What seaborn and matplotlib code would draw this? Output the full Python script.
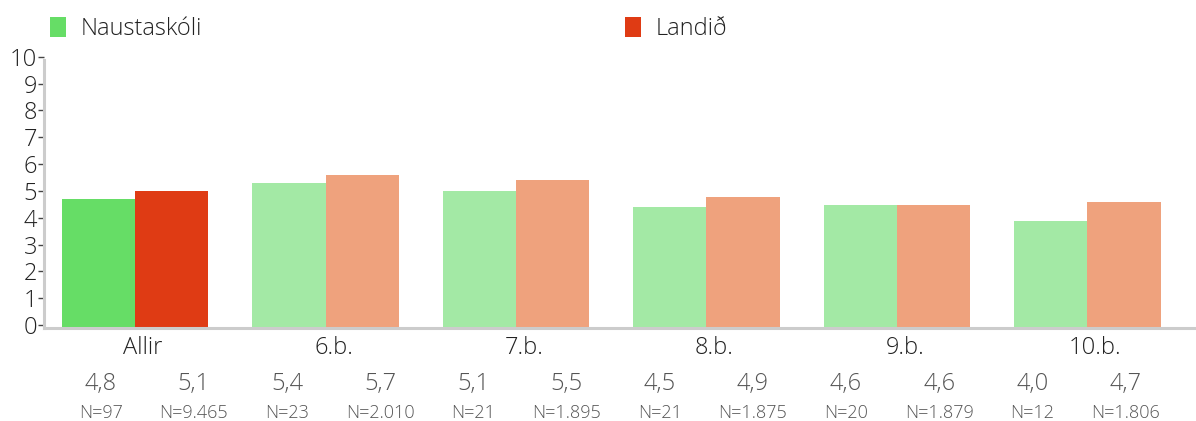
import numpy as np
import pandas as pd
import seaborn as sns
import matplotlib.pyplot as plt
from matplotlib.transforms import ScaledTranslation
from matplotlib.patches import Patch

groups = ["Allir", "6.b.", "7.b.", "8.b.", "9.b.", "10.b."]
series = ["Naustaskóli", "Landið"]
naust_values = [4.8, 5.4, 5.1, 4.5, 4.6, 4.0]
landid_values = [5.1, 5.7, 5.5, 4.9, 4.6, 4.7]
naust_n = ["97", "23", "21", "21", "20", "12"]
landid_n = ["9.465", "2.010", "1.895", "1.875", "1.879", "1.806"]

strong_colors = ["#66dd66", "#df3b14"]
pale_colors = ["#a3e9a5", "#efa27d"]

df = pd.DataFrame({
    "group": groups * 2,
    "series": [series[0]] * len(groups) + [series[1]] * len(groups),
    "value": naust_values + landid_values,
})

sns.set_theme(style="white")
plt.rcParams["font.family"] = ["Open Sans", "DejaVu Sans"]
plt.rcParams["font.weight"] = "light"

fig = plt.figure(figsize=(11.96, 4.21), dpi=100)
ax = fig.add_axes([0.0368, 0.2209, 0.9632, 0.6373])

sns.barplot(data=df, x="group", y="value", hue="series", order=groups,
            hue_order=series, palette=strong_colors, saturation=1,
            width=0.77, ax=ax, legend=False)

# pale colours for every group except "Allir"
for s_idx, container in enumerate(ax.containers):
    for g_idx, bar in enumerate(container):
        bar.set_edgecolor("none")
        if g_idx > 0:
            bar.set_facecolor(pale_colors[s_idx])

ax.set_xlim(-0.478, 5.57)
ax.set_ylim(0, 10)
ax.set_xlabel("")
ax.set_ylabel("")

for side in ["top", "right"]:
    ax.spines[side].set_visible(False)
for side in ["left", "bottom"]:
    ax.spines[side].set_color("#cccccc")
    ax.spines[side].set_linewidth(2.2)

ax.set_yticks(range(11))
ax.tick_params(axis="y", length=4, width=1, color="#444444", pad=1,
               labelsize=17, labelcolor="#222222", left=True)
ax.tick_params(axis="x", length=0, pad=6, labelsize=17, labelcolor="#222222")
off = ScaledTranslation(0, 3 / 100, fig.dpi_scale_trans)
for t in ax.yaxis.get_major_ticks():
    t.label1.set_transform(t.label1.get_transform() + off)
    t.tick1line.set_transform(t.tick1line.get_transform() + off)
xoff = ScaledTranslation(8 / 100, 0, fig.dpi_scale_trans)
for t in ax.xaxis.get_major_ticks():
    t.label1.set_transform(t.label1.get_transform() + xoff)

# value and N rows under the axis
col_x = np.linspace(-0.18, 5.20, 12)
trans = ax.get_xaxis_transform()
for i in range(len(groups)):
    for j, (v, n) in enumerate([(naust_values[i], naust_n[i]),
                                (landid_values[i], landid_n[i])]):
        x = col_x[2 * i + j]
        ax.text(x, -0.21, f"{v:.1f}".replace(".", ","), transform=trans,
                ha="center", va="center", fontsize=17, color="#555555")
        ax.text(x, -0.315, f"N={n}", transform=trans,
                ha="center", va="center", fontsize=13, color="#555555")

handles = [Patch(facecolor=c, edgecolor="none") for c in strong_colors]
fig.legend(handles, series, loc="upper left", bbox_to_anchor=(0.024, 1.01),
           ncol=2, frameon=False, fontsize=17, handlelength=0.7,
           handleheight=0.9, handletextpad=0.6, columnspacing=17.9,
           labelcolor="#222222")

fig.savefig("out.png", dpi=100)
plt.close(fig)
